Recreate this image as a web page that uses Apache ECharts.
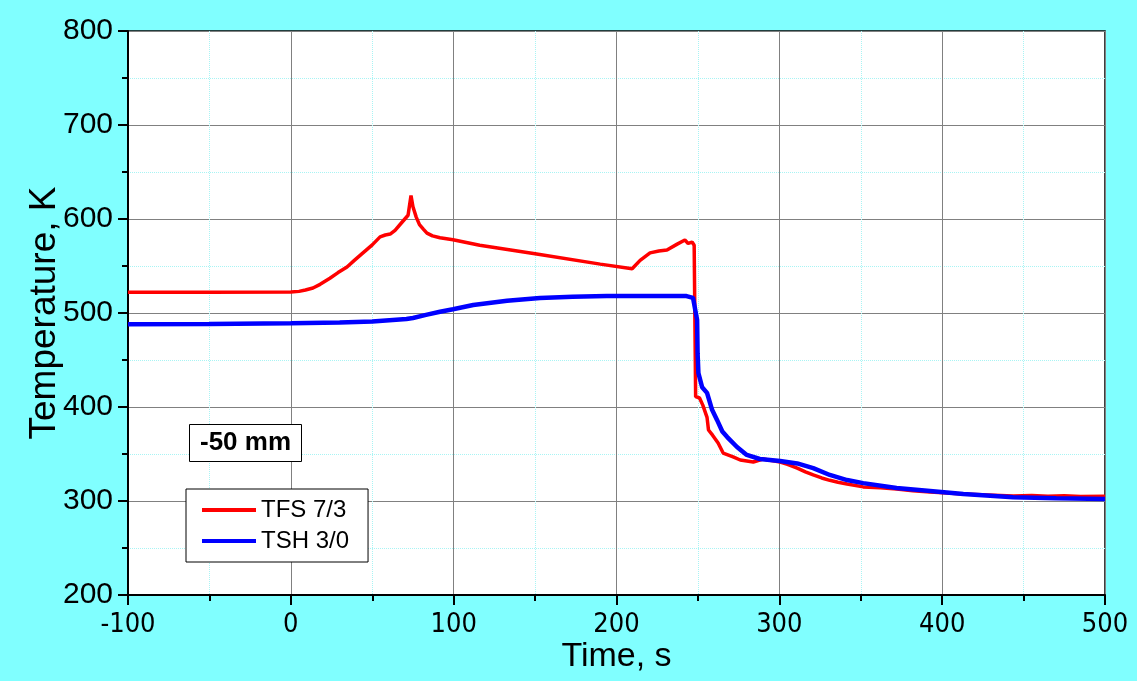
<!DOCTYPE html>
<html>
<head>
<meta charset="utf-8">
<title>Temperature vs time, -50 mm</title>
<script src="https://cdn.jsdelivr.net/npm/echarts@6/dist/echarts.min.js"></script>
<style>
  html, body { margin: 0; padding: 0; background: #80ffff; }
  #chart { width: 1137px; height: 681px; }
</style>
</head>
<body>
<div id="chart"></div>
<script>
// Thermocouple TFS 7/3: time (s) and temperature (K)
const tfsTime = [-100, -50, 0, 5, 9, 13.6, 18, 24, 29, 34.5, 39, 44.3, 50, 54.8, 58, 61, 64, 68, 72, 73.8, 75, 77, 79, 81.5, 83.6, 87, 91.6, 99.6, 116,
  150, 190, 209.6, 214.5, 220.6, 226, 231, 237, 242, 244, 246.4, 247.7, 248.2, 248.6, 251, 253, 255.6, 256.5, 259, 262.4, 265.5,
  271.6, 276, 284, 290, 300.5, 305, 311, 316, 320.8, 326, 331, 336, 341.6, 351.5, 362, 372, 382, 392.6, 403, 413, 428, 443.6,
  455, 465, 475, 485, 500];
const tfsTemp = [522, 522, 522.3, 523, 524.5, 526.6, 530.5, 537, 543, 549, 556, 564, 572.5, 581, 583, 584, 588, 596, 604, 625, 613, 602, 594, 589, 585, 582, 580, 578, 572,
  563, 552, 547, 556, 564, 566, 567, 573, 577.6, 574, 575.5, 572, 570, 411, 409.6, 402, 389, 375.5, 370, 361.7, 351,
  347, 343.6, 341.5, 344.7, 341.5, 339, 335, 331, 327.7, 324.5, 322, 320, 318, 315, 314, 312.8, 311, 309.6, 308.5, 307.4, 306.5, 305.3,
  305.8, 305, 305.6, 304.8, 305];

// Thermocouple TSH 3/0: time (s) and temperature (K)
const tshTime = [-100, -50, 0, 30, 50, 71, 75, 83, 91.6, 99.6, 112, 132.8, 153, 173, 194, 214.5, 243, 247, 249.5, 249.8, 250.3, 252.6,
  255.6, 258.7, 261.8, 265, 268, 274, 280, 288, 300.5, 311, 320.8, 331, 341.6, 351.5, 372, 392.6, 413, 443.6, 470, 500];
const tshTemp = [488, 488.3, 489, 489.8, 491, 493.6, 494.7, 498, 501.4, 504, 508.5, 513, 516, 517.3, 518, 518, 518, 516, 492.6, 457, 436, 421,
  415, 397, 386, 374, 368, 357.4, 349, 344.7, 342.5, 340, 335, 327.7, 322.3, 319, 313.8, 310.6, 307.4, 304, 302.8, 302];

// Axis ranges and tick spacing
const xRange = [-100, 500];
const xStep = 100;
const yRange = [200, 800];
const yStep = 100;

const seriesNames = ['TFS 7/3', 'TSH 3/0'];
const positionLabel = '-50 mm';

const pairs = (xs, ys) => xs.map((x, i) => [x, ys[i]]);

const chart = echarts.init(document.getElementById('chart'), null, { renderer: 'canvas' });

const axisCommon = {
  axisLine: { show: true, onZero: false, lineStyle: { color: '#000', width: 2 } },
  axisTick: { show: true, inside: false, length: 10, lineStyle: { color: '#000', width: 2 } },
  minorTick: { show: true, splitNumber: 2, length: 6, lineStyle: { color: '#000', width: 2 } },
  splitLine: { show: true, lineStyle: { color: '#808080', width: 1 } },
  minorSplitLine: { show: true, lineStyle: { color: '#a8f4f4', width: 1, type: 'dotted' } }
};

chart.setOption({
  backgroundColor: '#80ffff',
  animation: false,
  grid: {
    left: 128, right: 32, top: 31, bottom: 86,
    show: true, backgroundColor: '#ffffff', borderColor: '#000', borderWidth: 1.5
  },
  title: {
    text: positionLabel,
    left: 189, top: 424,
    padding: [6, 11],
    backgroundColor: '#fff',
    borderColor: '#000', borderWidth: 1,
    textStyle: { fontFamily: 'Liberation Sans, Arial, sans-serif', fontSize: 26, fontWeight: 'bold', color: '#000' }
  },
  legend: {
    data: [
      { name: seriesNames[0], icon: 'rect', itemStyle: { color: '#ff0000' } },
      { name: seriesNames[1], icon: 'rect', itemStyle: { color: '#0000ff' } }
    ],
    orient: 'vertical',
    left: 186, top: 489,
    padding: [9, 19, 9, 16],
    itemWidth: 54, itemHeight: 4, itemGap: 7,
    itemStyle: { borderWidth: 0 },
    lineStyle: { width: 0 },
    backgroundColor: '#fff',
    borderColor: '#000', borderWidth: 1, borderRadius: 0,
    textStyle: { fontFamily: 'Liberation Sans, Arial, sans-serif', fontSize: 24, color: '#000', lineHeight: 24 }
  },
  xAxis: Object.assign({
    type: 'value',
    min: xRange[0], max: xRange[1], interval: xStep,
    name: 'Time, s',
    nameLocation: 'middle',
    nameGap: 45,
    nameMoveOverlap: false,
    nameTextStyle: { fontFamily: 'Liberation Sans, Arial, sans-serif', fontSize: 34, color: '#000' },
    axisLabel: { margin: 16, fontFamily: 'Liberation Sans Narrow, Arial Narrow, DejaVu Sans Condensed, Liberation Sans, sans-serif', fontSize: 27, color: '#000' }
  }, axisCommon),
  yAxis: Object.assign({
    type: 'value',
    min: yRange[0], max: yRange[1], interval: yStep,
    name: 'Temperature, K',
    nameLocation: 'middle',
    nameGap: 65,
    nameMoveOverlap: false,
    nameTextStyle: { fontFamily: 'Liberation Sans, Arial, sans-serif', fontSize: 37, color: '#000' },
    axisLabel: { margin: 15, fontFamily: 'Liberation Sans, Arial, sans-serif', fontSize: 30, color: '#000' }
  }, axisCommon),
  series: [
    {
      name: seriesNames[0], type: 'line', data: pairs(tfsTime, tfsTemp),
      symbol: 'none', showSymbol: false, z: 3,
      lineStyle: { color: '#ff0000', width: 3.5 }, itemStyle: { color: '#ff0000' }
    },
    {
      name: seriesNames[1], type: 'line', data: pairs(tshTime, tshTemp),
      symbol: 'none', showSymbol: false, z: 4,
      lineStyle: { color: '#0000ff', width: 4.5 }, itemStyle: { color: '#0000ff' }
    }
  ]
});
</script>
</body>
</html>
